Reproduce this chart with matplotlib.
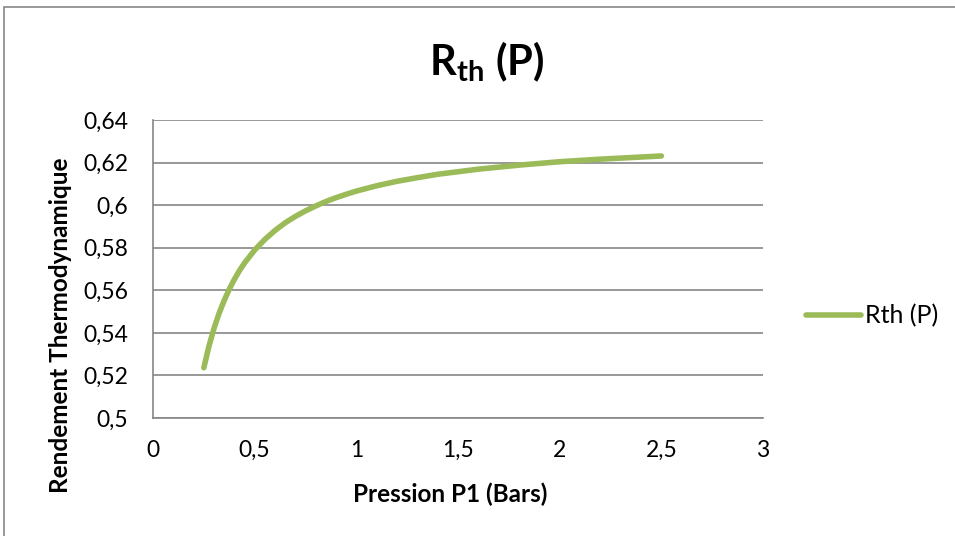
import matplotlib
matplotlib.use("Agg")
import matplotlib.pyplot as plt
from matplotlib.patches import Rectangle
from matplotlib.ticker import FuncFormatter

# pression P1 (bars) et rendement thermodynamique
pression = [0.25, 0.275, 0.3, 0.325, 0.35, 0.375, 0.4, 0.425, 0.45, 0.5, 0.55,
            0.6, 0.65, 0.7, 0.75, 0.8, 0.85, 0.9, 0.95, 1.0, 1.1, 1.2, 1.3,
            1.4, 1.6, 1.8, 2.0, 2.2, 2.5]
rendement = [0.5236, 0.5337, 0.5421, 0.5492, 0.5552, 0.5605, 0.5651, 0.5692,
             0.5728, 0.5789, 0.5839, 0.5881, 0.5917, 0.5947, 0.5973, 0.5996,
             0.6017, 0.6035, 0.6051, 0.6066, 0.6091, 0.6112, 0.6129, 0.6145,
             0.6169, 0.6188, 0.6204, 0.6216, 0.6231]
y_ticks = [0.5, 0.52, 0.54, 0.56, 0.58, 0.6, 0.62, 0.64]
x_ticks = [0, 0.5, 1, 1.5, 2, 2.5, 3]

plt.rcParams['font.family'] = ['Lato', 'DejaVu Sans']
plt.rcParams['mathtext.fontset'] = 'custom'
plt.rcParams['mathtext.rm'] = 'Lato'
plt.rcParams['mathtext.bf'] = 'Lato:bold'

fig = plt.figure(figsize=(9.55, 5.36), dpi=100)
# cadre du graphique (coupé à droite et en bas)
fig.patches.append(Rectangle((4 / 955, -0.1), 1.2, 1 - 7 / 536 + 0.1,
                             transform=fig.transFigure, fill=False,
                             edgecolor='#868686', linewidth=1.2))

ax = fig.add_axes([153 / 955, 1 - 418 / 536, 610 / 955, 298 / 536])
ax.plot(pression, rendement, color='#9BBB59', linewidth=4,
        solid_capstyle='round', label='Rth (P)')

ax.set_xlim(0, 3)
ax.set_ylim(0.5, 0.64)
ax.set_xticks(x_ticks)
ax.set_yticks(y_ticks)
fmt = FuncFormatter(lambda v, p: ('%g' % round(v, 2)).replace('.', ','))
ax.xaxis.set_major_formatter(fmt)
ax.yaxis.set_major_formatter(fmt)
ax.grid(axis='y', color='#868686', linewidth=1.2)
ax.set_axisbelow(True)
for s in ['top', 'right']:
    ax.spines[s].set_visible(False)
for s in ['left', 'bottom']:
    ax.spines[s].set_color('#868686')
    ax.spines[s].set_linewidth(1.2)
ax.tick_params(axis='x', length=0, labelsize=16.5, pad=16)
ax.tick_params(axis='y', length=0, labelsize=16.5, pad=18)

fig.text(450 / 955, 1 - 494 / 536, 'Pression P1 (Bars)', fontsize=17.5,
         fontweight='bold', ha='center', va='center')
fig.text(61 / 955, 1 - 325 / 536, 'Rendement Thermodynamique', fontsize=17.5,
         fontweight='bold', ha='center', va='center', rotation=90)
fig.text(487 / 955, 1 - 75 / 536, r'$\mathbf{R}_{\mathbf{th}}$ $\mathbf{(P)}$',
         fontsize=30, ha='center', va='baseline')

ax.legend(loc='center left', bbox_to_anchor=(806 / 955, 1 - 316 / 536),
          bbox_transform=fig.transFigure, frameon=False, borderpad=0,
          borderaxespad=0, fontsize=18, handlelength=2.2, handletextpad=0.15)

fig.savefig('out.png', dpi=100)
